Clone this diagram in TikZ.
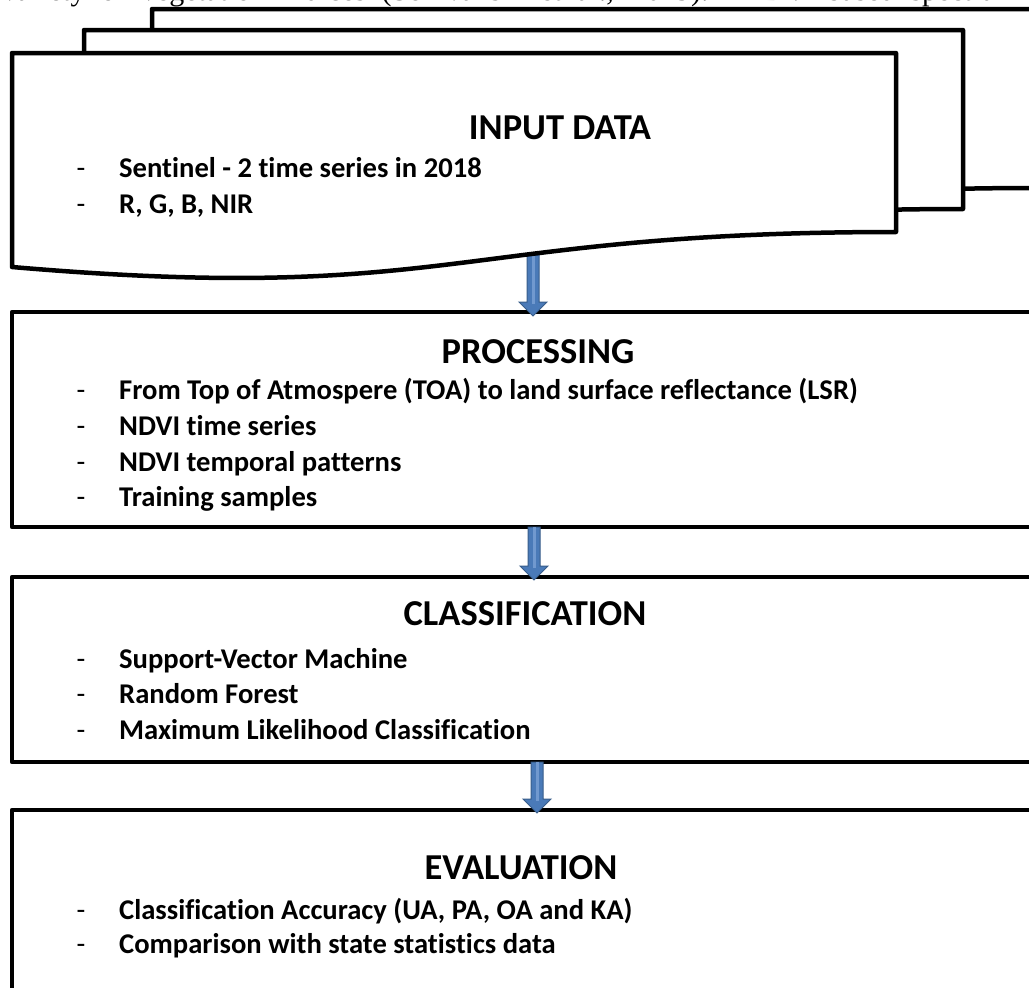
\documentclass[tikz,border=0pt]{standalone}
\usepackage{fontspec}
\setmainfont{Carlito}[Ligatures={NoCommon,NoContextual}]
\newfontfamily\paperfont{Liberation Serif}
\usetikzlibrary{calc}
\definecolor{arrowblue}{HTML}{4A7AB8}
\definecolor{arrowdark}{HTML}{385D8A}
\definecolor{arrowlight}{HTML}{7199CF}
\newcommand\flowarrow[2]{%
  \fill[arrowblue, draw=arrowdark, line width=1pt, line join=miter]
    ($(#1)+(-6,0)$) -- ($(#2)+(-6,-14)$) -- ($(#2)+(-14,-14)$) -- (#2)
    -- ($(#2)+(14,-14)$) -- ($(#2)+(6,-14)$) -- ($(#1)+(6,0)$) -- cycle;
  \draw[arrowlight, line width=3pt] (#1) -- ($(#2)+(0,-12)$);}
\newcommand\docshape[3]{%
  \path[boxline] (#1,#2) -- ++(#3,0) -- ++(0,179)
    .. controls +(-#3/2,0) and +(#3/2,38) .. ++(-#3,35) -- cycle;}
\begin{document}
\begin{tikzpicture}[x=1pt, y=-1pt, line join=round,
  boxline/.style={draw=black, line width=4.5pt, fill=white},
  boxnode/.style={boxline, rectangle, inner sep=0, outer sep=0, anchor=north west},
  titletext/.style={font=\bfseries\fontsize{36.5}{40}\selectfont, anchor=base, inner sep=0},
  itemtext/.style={font=\bfseries\fontsize{28.6}{32}\selectfont, anchor=base west, inner sep=0},
  bulletmark/.style={font=\fontsize{28.6}{32}\selectfont, anchor=base, inner sep=0}]
\useasboundingbox (0,0) rectangle (1029,988);
\begin{scope}
\clip (0,0) rectangle (1029,988);
\fill[white] (0,0) rectangle (1029,988);
% cut-off line of the surrounding page
\node[anchor=base west, inner sep=0, font=\paperfont\fontsize{30}{30}\selectfont] (papertext) at (2,0.5)
  {\makebox[1040pt][s]{variety of vegetation indices (Somvanshi et al., 2019). NDVI-based spectral re}};
% step boxes
\node[boxnode, minimum width=1040, minimum height=215] (proc) at (12,312) {};
\node[boxnode, minimum width=1040, minimum height=185] (clas) at (12,577) {};
\node[boxnode, minimum width=1040, minimum height=200] (eval) at (12,810) {};
% arrows
\coordinate (a1s) at (533,250);
\coordinate (a1e) at ($(533,0 |- proc.north)+(0,4)$);
\coordinate (a2s) at (534,0 |- proc.south);
\coordinate (a2e) at ($(534,0 |- clas.north)+(0,3)$);
\coordinate (a3s) at (537,0 |- clas.south);
\coordinate (a3e) at ($(537,0 |- eval.north)+(0,3)$);
\flowarrow{a1s}{a1e}
\flowarrow{a2s}{a2e}
\flowarrow{a3s}{a3e}
% stacked input documents
\docshape{152}{9}{884}
\docshape{84}{30}{879}
\docshape{12}{53}{884}
% input data
\node[titletext] (t1) at (560,139) {INPUT DATA};
\node[bulletmark] (d11) at (81,177) {-};
\node[itemtext] (i11) at (119,177) {Sentinel - 2 time series in 2018};
\node[bulletmark] (d12) at (81,213) {-};
\node[itemtext] (i12) at (119,213) {R, G, B, NIR};
% processing
\node[titletext] (t2) at (538,363) {PROCESSING};
\node[bulletmark] (d21) at (81,399) {-};
\node[itemtext] (i21) at (119,399) {From Top of Atmospere (TOA) to land surface reflectance (LSR)};
\node[bulletmark] (d22) at (81,435) {-};
\node[itemtext] (i22) at (119,435) {NDVI time series};
\node[bulletmark] (d23) at (81,471) {-};
\node[itemtext] (i23) at (119,471) {NDVI temporal patterns};
\node[bulletmark] (d24) at (81,506) {-};
\node[itemtext] (i24) at (119,506) {Training samples};
% classification
\node[titletext] (t3) at (525,625) {CLASSIFICATION};
\node[bulletmark] (d31) at (81,668) {-};
\node[itemtext] (i31) at (119,668) {Support-Vector Machine};
\node[bulletmark] (d32) at (81,703) {-};
\node[itemtext] (i32) at (119,703) {Random Forest};
\node[bulletmark] (d33) at (81,739) {-};
\node[itemtext] (i33) at (119,739) {Maximum Likelihood Classification};
% evaluation
\node[titletext] (t4) at (521,879) {EVALUATION};
\node[bulletmark] (d41) at (81,919) {-};
\node[itemtext] (i41) at (119,919) {Classification Accuracy (UA, PA, OA and KA)};
\node[bulletmark] (d42) at (81,953) {-};
\node[itemtext] (i42) at (119,953) {Comparison with state statistics data};
\end{scope}
\end{tikzpicture}
\end{document}
